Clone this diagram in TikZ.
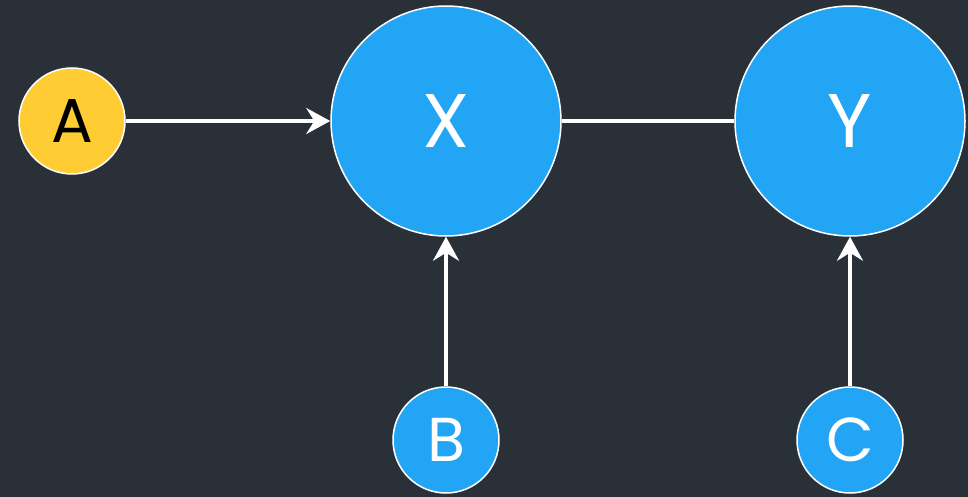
\documentclass[tikz,border=0pt]{standalone}
\usepackage{fontspec}
\setmainfont{Poppins}
\usetikzlibrary{arrows.meta}
\definecolor{bg}{HTML}{293038}
\definecolor{nodeblue}{HTML}{22A5F5}
\definecolor{nodeyellow}{HTML}{FFCC33}
\begin{document}
\begin{tikzpicture}[x=1pt,y=-1pt,
  bignode/.style={circle,draw=white,line width=1.5pt,fill=nodeblue,minimum size=230pt,inner sep=0pt,text=white,font=\fontsize{76}{76}\selectfont},
  smallnode/.style={circle,draw=white,line width=1.5pt,fill=nodeblue,minimum size=106pt,inner sep=0pt,text=white,font=\fontsize{62}{62}\selectfont},
  conn/.style={draw=white,line width=3.5pt},
  arr/.style={conn,-{Stealth[length=24pt,width=26pt,inset=8pt]}}]
\fill[bg] (0,0) rectangle (968,497);
\useasboundingbox (0,0) rectangle (968,497);
\node[smallnode,fill=nodeyellow,text=black] (A) at (72,121) {A};
\node[bignode] (X) at (446,121) {X};
\node[bignode] (Y) at (850,121) {Y};
\node[smallnode] (B) at (446,440) {B};
\node[smallnode] (C) at (850,440) {C};
\draw[arr] (A) -- (X);
\draw[conn] (X) -- (Y);
\draw[arr] (B) -- (X);
\draw[arr] (C) -- (Y);
\end{tikzpicture}
\end{document}
